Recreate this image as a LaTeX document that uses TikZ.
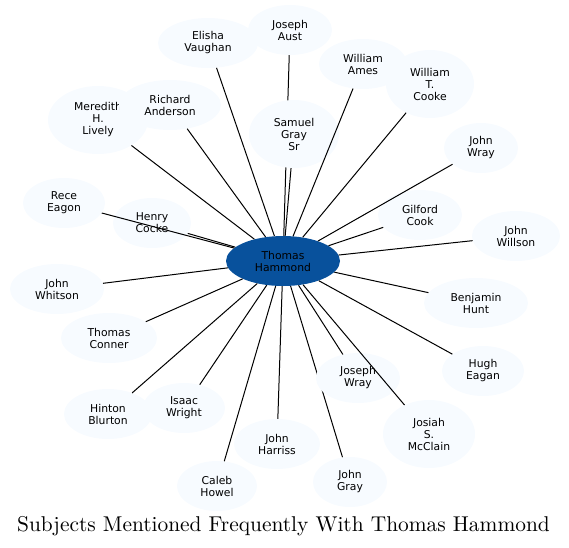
\documentclass[tikz,border=0pt]{standalone}
\usepackage{fontspec}
\newfontfamily\nodefont{DejaVu Sans}
\newfontfamily\titlefont{lmroman10-regular}[Extension=.otf]
\usetikzlibrary{shapes.geometric}
\definecolor{hub}{HTML}{08519C}
\definecolor{leaf}{HTML}{F7FBFF}
\pgfdeclarelayer{bg}
\pgfsetlayers{bg,main}
\tikzset{
  leafnode/.style={ellipse, fill=leaf, draw=none, inner sep=0pt, align=center,
    font=\nodefont\fontsize{10.8}{12}\selectfont},
  hubnode/.style={leafnode, fill=hub},
  sz/.style 2 args={minimum width=#1pt, minimum height=#2pt},
  edge/.style={draw=black, line width=1pt},
}
\begin{document}
\begin{tikzpicture}[x=1pt,y=-1pt]
\useasboundingbox (0,0) rectangle (569,547);
% nodes
\node[hubnode,sz={114}{50}] (hub) at (283,261) {Thomas\\Hammond};
\node[leafnode,sz={100}{50}] (elisha) at (208,43) {Elisha\\Vaughan};
\node[leafnode,sz={84}{50}] (aust) at (290,30) {Joseph\\Aust};
\node[leafnode,sz={100}{68}] (meredith) at (98,120) {Meredith\\H.\\Lively};
\node[leafnode,sz={102}{50}] (richard) at (170,105) {Richard\\Anderson};
\node[leafnode,sz={82}{50}] (rece) at (64,203) {Rece\\Eagon};
\node[leafnode,sz={78}{50}] (henry) at (152,223) {Henry\\Cocke};
\node[leafnode,sz={90}{68}] (samuel) at (294,134) {Samuel\\Gray\\Sr};
\node[leafnode,sz={88}{50}] (ames) at (363,64) {William\\Ames};
\node[leafnode,sz={88}{68}] (cooke) at (430,84) {William\\T.\\Cooke};
\node[leafnode,sz={74}{50}] (jwray) at (481,148) {John\\Wray};
\node[leafnode,sz={84}{50}] (gilford) at (420,215) {Gilford\\Cook};
\node[leafnode,sz={88}{50}] (willson) at (516,236) {John\\Willson};
\node[leafnode,sz={94}{50}] (whitson) at (57,289) {John\\Whitson};
\node[leafnode,sz={96}{50}] (conner) at (109,338) {Thomas\\Conner};
\node[leafnode,sz={88}{50}] (hinton) at (108,414) {Hinton\\Blurton};
\node[leafnode,sz={82}{50}] (isaac) at (184,408) {Isaac\\Wright};
\node[leafnode,sz={80}{50}] (caleb) at (217,486) {Caleb\\Howel};
\node[leafnode,sz={86}{50}] (harriss) at (277,444) {John\\Harriss};
\node[leafnode,sz={104}{50}] (benjamin) at (476,303) {Benjamin\\Hunt};
\node[leafnode,sz={82}{50}] (hugh) at (483,371) {Hugh\\Eagan};
\node[leafnode,sz={84}{50}] (joswray) at (358,378) {Joseph\\Wray};
\node[leafnode,sz={92}{68}] (josiah) at (429,434) {Josiah\\S.\\McClain};
\node[leafnode,sz={74}{50}] (jgray) at (350,482) {John\\Gray};
% edges hidden behind other nodes
\begin{pgfonlayer}{bg}
\draw[edge] (hub) -- (aust);
\draw[edge] (hub) -- (jgray);
\end{pgfonlayer}
% edges on top
\foreach \n in {elisha,meredith,richard,rece,henry,samuel,ames,cooke,jwray,gilford,willson,whitson,conner,hinton,isaac,caleb,harriss,benjamin,hugh,joswray,josiah}
  \draw[edge] (hub) -- (\n);
% title
\node[anchor=base, inner sep=0pt, font=\titlefont\fontsize{21.4}{25}\selectfont] (title) at (283.5,531) {Subjects Mentioned Frequently With Thomas Hammond};
\end{tikzpicture}
\end{document}
